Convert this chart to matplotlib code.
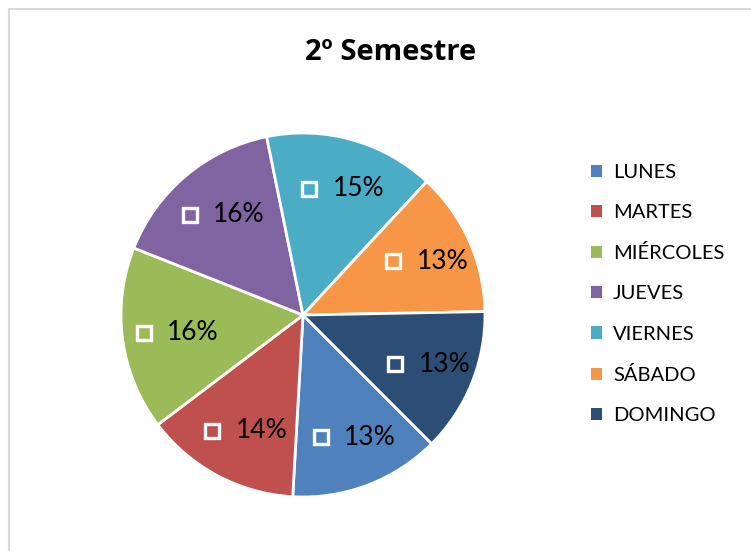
import numpy as np
import matplotlib
matplotlib.use('Agg')
import matplotlib.pyplot as plt
from matplotlib.patches import Patch, Rectangle

plt.rcParams['font.family'] = ['Lato', 'DejaVu Sans']

# data (percent of total)
days = ['LUNES', 'MARTES', 'MIÉRCOLES', 'JUEVES', 'VIERNES', 'SÁBADO', 'DOMINGO']
shares = [13.4, 13.8, 16.3, 15.8, 15.1, 12.8, 12.8]
colors = ['#4F81BD', '#C0504D', '#9BBB59', '#8064A2', '#4BACC6', '#F79646', '#2C4D75']
title = '2º Semestre'

W, H = 751, 551
fig = plt.figure(figsize=(W / 100, H / 100), dpi=100)

# light chart-area border (cropped at right and bottom like the screenshot)
fig.patches.append(Rectangle((9 / W, -0.05), 1.2, 1.05 - 9 / H,
                             transform=fig.transFigure, fill=False,
                             edgecolor='#d9d9d9', linewidth=1.5))

# pie placed with center ~ (303, 315) px and radius ~182 px
cx, cy, r = 303, 315, 182
ax = fig.add_axes([(cx - r) / W, (H - cy - r) / H, 2 * r / W, 2 * r / H])
wedges, _ = ax.pie(shares, colors=colors, startangle=-45, counterclock=False,
                   wedgeprops=dict(edgecolor='white', linewidth=2))
ax.set_xlim(-1, 1)
ax.set_ylim(-1, 1)
ax.set_aspect('equal')
ax.axis('off')

total = sum(shares)
for w, v, c in zip(wedges, shares, colors):
    mid = np.deg2rad((w.theta1 + w.theta2) / 2)
    d = 0.72
    x, y = d * np.cos(mid), d * np.sin(mid)
    ax.plot(x - 0.16, y, marker='s', markersize=10, markerfacecolor='none',
            markeredgecolor='white', markeredgewidth=2.4)
    ax.text(x + 0.11, y, f'{round(v / total * 100)}%', ha='center', va='center',
            fontsize=19, color='black')

fig.text(391 / W, 1 - 53 / H, title, ha='center', va='center',
         fontsize=21, fontweight='bold', family=['Open Sans', 'DejaVu Sans'])

handles = [Patch(facecolor=c, edgecolor='none') for c in colors]
fig.legend(handles, days, loc='upper left', bbox_to_anchor=(591 / W, 1 - 164 / H),
           frameon=False, fontsize=14.5, handlelength=0.55, handleheight=0.55,
           handletextpad=0.55, labelspacing=1.15, borderaxespad=0, borderpad=0)

fig.savefig('out.png', dpi=100)
